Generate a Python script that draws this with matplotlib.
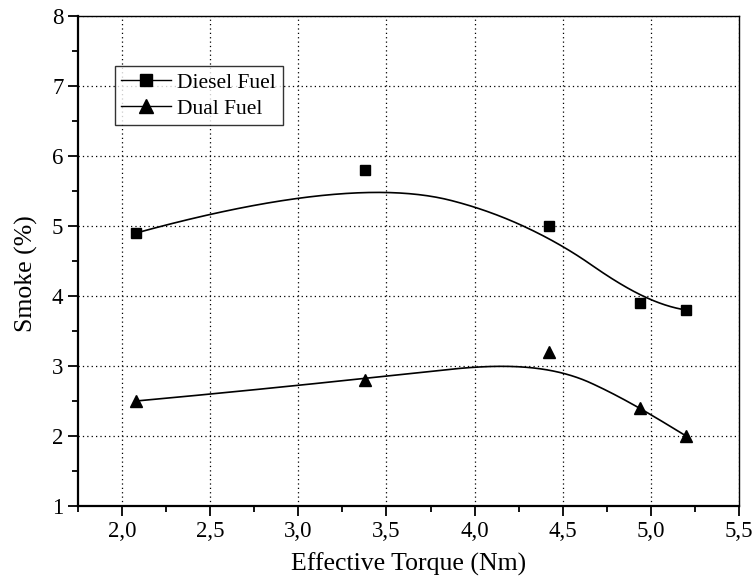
import numpy as np
import matplotlib
matplotlib.use("Agg")
import matplotlib.pyplot as plt
from matplotlib.ticker import MultipleLocator, FuncFormatter

# データ
torque = [2.08, 3.38, 4.42, 4.94, 5.20]
smoke_diesel = [4.9, 5.8, 5.0, 3.9, 3.8]
smoke_dual = [2.5, 2.8, 3.2, 2.4, 2.0]


def bspline(xs, ys, k=3, n=300):
    # 制御点をデータ点とするBスプライン（端点固定、一様ノット）
    pts = np.column_stack([xs, ys])
    m = len(pts)
    inner = np.linspace(0, 1, m - k + 1)[1:-1]
    knots = np.concatenate([[0] * (k + 1), inner, [1] * (k + 1)])
    out = []
    for t in np.linspace(0, 1 - 1e-9, n):
        i = np.searchsorted(knots, t, side="right") - 1
        d = [pts[j + i - k].copy() for j in range(k + 1)]
        for r in range(1, k + 1):
            for j in range(k, r - 1, -1):
                a = (t - knots[j + i - k]) / (knots[j + 1 + i - r] - knots[j + i - k])
                d[j] = (1 - a) * d[j - 1] + a * d[j]
        out.append(d[k])
    out.append(pts[-1])
    return np.array(out)


def smooth(xs, ys):
    # 2次と3次の平均（元図の曲線に近い）
    c = 0.5 * (bspline(xs, ys, 2) + bspline(xs, ys, 3))
    return c[:, 0], c[:, 1]


plt.rcParams["font.family"] = ["Liberation Serif", "DejaVu Serif"]

fig = plt.figure(figsize=(7.55, 5.88), dpi=100)
ax = fig.add_axes([78 / 755, 1 - 506 / 588, (739 - 78) / 755, (506 - 16) / 588])

for ys, mk, ms, lab in [(smoke_diesel, "s", 7.5, "Diesel Fuel"), (smoke_dual, "^", 9, "Dual Fuel")]:
    cx, cy = smooth(torque, ys)
    ax.plot(cx, cy, color="black", lw=1.2)
    ax.plot(torque, ys, linestyle="none", marker=mk, color="black", markersize=ms)
    ax.plot([], [], color="black", lw=1.0, marker=mk, markersize=ms + 1.5, label=lab)

ax.set_xlim(1.75, 5.5)
ax.set_ylim(1, 8)
ax.xaxis.set_major_locator(MultipleLocator(0.5))
ax.xaxis.set_minor_locator(MultipleLocator(0.25))
ax.yaxis.set_major_locator(MultipleLocator(1))
ax.yaxis.set_minor_locator(MultipleLocator(0.5))
ax.xaxis.set_major_formatter(FuncFormatter(lambda v, p: ("%.1f" % v).replace(".", ",") if v >= 1.99 else ""))
ax.yaxis.set_major_formatter(FuncFormatter(lambda v, p: "%d" % v))

ax.grid(True, which="major", linestyle=(0, (1, 2.5)), color="black", lw=0.9)
ax.tick_params(which="major", direction="out", length=7, width=1.3, labelsize=16.5)
ax.tick_params(which="minor", direction="out", length=4, width=1.3)
ax.tick_params(top=False, right=False, which="both")
for s in ["left", "bottom"]:
    ax.spines[s].set_linewidth(1.6)
for s in ["top", "right"]:
    ax.spines[s].set_linewidth(1.0)

ax.set_xlabel("Effective Torque (Nm)", fontsize=18.5, labelpad=8)
ax.set_ylabel("Smoke (%)", fontsize=18.5)
ax.yaxis.set_label_coords(-0.060, 0.475)

leg = ax.legend(loc="upper left", bbox_to_anchor=(0.056, 0.898), fontsize=15.5,
                frameon=True, fancybox=False, edgecolor="black", handlelength=2.3,
                borderpad=0.3, borderaxespad=0, labelspacing=0.28, handletextpad=0.3)
leg.get_frame().set_linewidth(1.0)

fig.savefig("out.png", dpi=100)
